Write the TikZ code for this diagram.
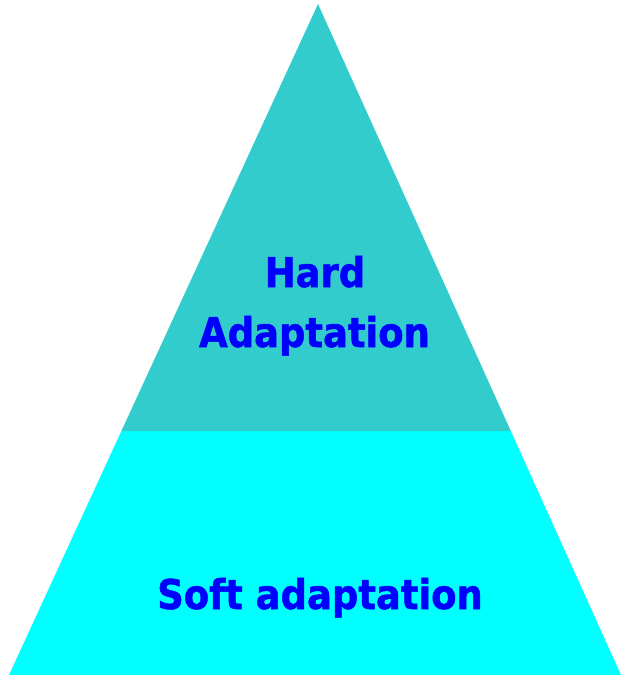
\documentclass[tikz,border=0pt]{standalone}
\usepackage{fontspec}
\newfontfamily\labfont{DejaVu Sans}[FakeStretch=0.9,FakeBold=1.2]
\definecolor{topteal}{HTML}{33CCCC}
\definecolor{botcyan}{HTML}{00FFFF}
\definecolor{labblue}{HTML}{0000FF}
\begin{document}
\begin{tikzpicture}[x=1pt,y=-1pt,
  lab/.style={font=\labfont\bfseries\fontsize{41}{60}\selectfont, text=labblue, inner sep=0pt, align=center}]
\useasboundingbox (0,0) rectangle (621,675);
\coordinate (apex) at (318,4);
\coordinate (bl) at (9,675);
\coordinate (br) at (621,675);
\coordinate (ml) at (121.4,431);
\coordinate (mr) at (510.8,431);
\fill[botcyan] (ml) -- (mr) -- (br) -- (bl) -- cycle;
\fill[topteal] (apex) -- (mr) -- (ml) -- cycle;
\node[lab, anchor=base] (hard) at (315,287) {Hard};
\node[lab, anchor=base] (adapt) at (314.5,347) {Adaptation};
\node[lab, anchor=base] (soft) at (320,609) {Soft adaptation};
\end{tikzpicture}
\end{document}
